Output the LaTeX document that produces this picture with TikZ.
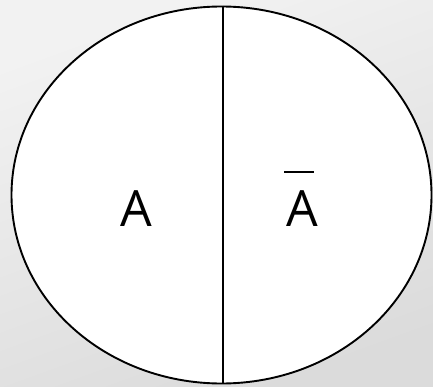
\documentclass[tikz,border=0pt]{standalone}
\usepackage{fontspec}
\setmainfont{Open Sans}
\usetikzlibrary{shapes.geometric}
\tikzset{
  region/.style={ellipse, draw=black, line width=1.9pt, fill=white, inner sep=0pt, minimum width=420pt, minimum height=377pt},
  divider/.style={draw=black, line width=2.2pt},
  setlabel/.style={font=\fontsize{50}{50}\selectfont, inner sep=0pt, anchor=base}
}
\begin{document}
\begin{tikzpicture}[x=1pt,y=1pt]
  \shade[top color=black!5, bottom color=black!14, shading angle=20] (0,0) rectangle (433,386);
  \useasboundingbox (0,0) rectangle (433,386);
  \node[region] (e) at (221.5,191) {};
  \draw[divider] ([xshift=1.2pt]e.north) -- ([xshift=1.2pt]e.south);
  \node[setlabel] (a) at (136.2,159.3) {A};
  \node[setlabel] (abar) at (302.5,159.3) {\rlap{\hspace{-2.5pt}\raisebox{53.4pt}{\rule{30pt}{2.2pt}}}A};
\end{tikzpicture}
\end{document}
